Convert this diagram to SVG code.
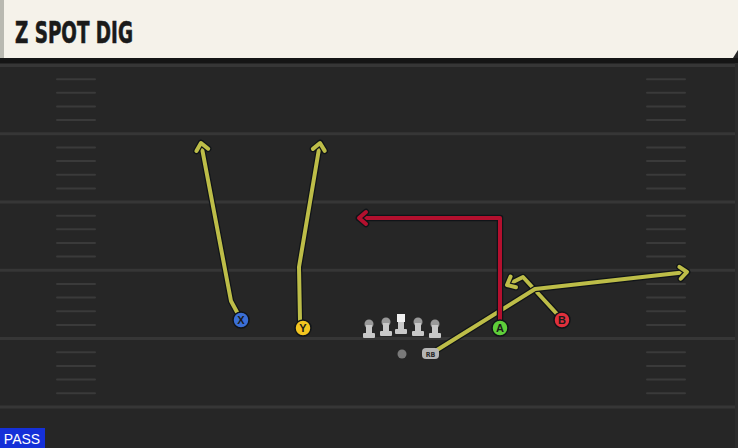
<svg xmlns="http://www.w3.org/2000/svg" width="738" height="448" viewBox="0 0 738 448">
<style>
.yl{stroke:#363636;stroke-width:3}
.hm{stroke:#3a3a3a;stroke-width:2;stroke-linecap:round}
.ol{fill:none;stroke:#101418;stroke-width:6.5;stroke-linejoin:round;stroke-linecap:round}
.ry{fill:none;stroke:#bdbd48;stroke-width:4;stroke-linejoin:round;stroke-linecap:round}
.rr{fill:none;stroke:#b3102e;stroke-width:4;stroke-linejoin:round;stroke-linecap:round}
.lbl{font-family:"Liberation Sans",Arial,sans-serif;font-weight:bold;font-size:11px;fill:#1a1a1a;text-anchor:middle}
.pc{stroke:#101418;stroke-width:1.5}
</style>
<defs>
<marker id="ay" markerUnits="userSpaceOnUse" viewBox="-14 -10 18 20" refX="0" refY="0" markerWidth="18" markerHeight="20" orient="auto" overflow="visible">
<path d="M-7,-6 L0,0 L-7,6" fill="none" stroke="#101418" stroke-width="6.5" stroke-linecap="round" stroke-linejoin="round"/>
<path d="M-7,-6 L0,0 L-7,6" fill="none" stroke="#bdbd48" stroke-width="4" stroke-linecap="round" stroke-linejoin="round"/>
</marker>
<marker id="ar" markerUnits="userSpaceOnUse" viewBox="-14 -10 18 20" refX="0" refY="0" markerWidth="18" markerHeight="20" orient="auto" overflow="visible">
<path d="M-7,-6 L0,0 L-7,6" fill="none" stroke="#101418" stroke-width="6.5" stroke-linecap="round" stroke-linejoin="round"/>
<path d="M-7,-6 L0,0 L-7,6" fill="none" stroke="#b3102e" stroke-width="4" stroke-linecap="round" stroke-linejoin="round"/>
</marker>
</defs>
<rect width="738" height="448" fill="#262626"/>
<g id="field">
<line class="yl" x1="0" y1="65.5" x2="738" y2="65.5"/>
<line class="yl" x1="0" y1="133.8" x2="738" y2="133.8"/>
<line class="yl" x1="0" y1="202" x2="738" y2="202"/>
<line class="yl" x1="0" y1="270.3" x2="738" y2="270.3"/>
<line class="yl" x1="0" y1="338.6" x2="738" y2="338.6"/>
<line class="yl" x1="0" y1="407" x2="738" y2="407"/>
<g id="hashes">
<path class="hm" d="M57,79.2H95M57,92.8H95M57,106.5H95M57,120.1H95M57,147.4H95M57,161H95M57,174.7H95M57,188.4H95M57,215.7H95M57,229.3H95M57,243H95M57,256.6H95M57,284H95M57,297.6H95M57,311.2H95M57,325H95M57,352.3H95M57,366H95M57,379.6H95M57,393.3H95"/>
<path class="hm" d="M647,79.2H685M647,92.8H685M647,106.5H685M647,120.1H685M647,147.4H685M647,161H685M647,174.7H685M647,188.4H685M647,215.7H685M647,229.3H685M647,243H685M647,256.6H685M647,284H685M647,297.6H685M647,311.2H685M647,325H685M647,352.3H685M647,366H685M647,379.6H685M647,393.3H685"/>
</g>
<rect x="735" y="60" width="3" height="388" fill="#2c2c2c"/>
</g>
<g id="header">
<rect x="0" y="58" width="738" height="5" fill="#151515"/>
<path d="M0,0H738V50L733,58H0Z" fill="#f5f2ea"/>
<rect x="0" y="0" width="4" height="58" fill="#b9b9b1"/>
<text x="15" y="43" font-family="'DejaVu Sans Condensed','DejaVu Sans',sans-serif" font-weight="bold" font-size="30" fill="#1a1a1a" stroke="#1a1a1a" stroke-width="0.6" textLength="118" lengthAdjust="spacingAndGlyphs">Z SPOT DIG</text>
</g>
<g id="connectors">
<path class="ol" d="M238,314 L231,301 L201,143"/>
<path class="ry" d="M238,314 L231,301 L201,143" marker-end="url(#ay)"/>
<path class="ol" d="M300,320 L299,267 L320,143"/>
<path class="ry" d="M300,320 L299,267 L320,143" marker-end="url(#ay)"/>
<path class="ol" d="M557,314 L523,277 L507,285"/>
<path class="ry" d="M557,314 L523,277 L507,285" marker-end="url(#ay)"/>
<path class="ol" d="M437,350 L535,289 L687,272"/>
<path class="ry" d="M437,350 L535,289 L687,272" marker-end="url(#ay)"/>
<path class="ol" d="M500,320 L500,218 L359,218"/>
<path class="rr" d="M500,320 L500,218 L359,218" marker-end="url(#ar)"/>
</g>
<g id="X"><circle class="pc" cx="241" cy="320" r="8" fill="#3b6fd6"/><text class="lbl" x="241" y="324">X</text></g>
<g id="Y"><circle class="pc" cx="303" cy="328" r="8" fill="#f2c520"/><text class="lbl" x="303" y="332">Y</text></g>
<g id="A"><circle class="pc" cx="500" cy="328" r="8" fill="#5fcf3a"/><text class="lbl" x="500" y="332">A</text></g>
<g id="B"><circle class="pc" cx="562" cy="320" r="8" fill="#e0303c"/><text class="lbl" x="562" y="324">B</text></g>
<g id="OL" fill="#c8c8c8">
<g id="LT"><circle cx="369" cy="324" r="4.5" fill="#999"/><rect x="366" y="325" width="6" height="9"/><rect x="363" y="333" width="12" height="5" rx="1"/></g>
<g id="LG"><circle cx="386" cy="322" r="4.5" fill="#999"/><rect x="383" y="323" width="6" height="9"/><rect x="380" y="331" width="12" height="5" rx="1"/></g>
<g id="C"><rect x="397" y="314" width="8" height="8" fill="#f0f0f0"/><rect x="398" y="322" width="6" height="8"/><rect x="395" y="329" width="12" height="5" rx="1"/></g>
<g id="RG"><circle cx="418" cy="322" r="4.5" fill="#999"/><rect x="415" y="323" width="6" height="9"/><rect x="412" y="331" width="12" height="5" rx="1"/></g>
<g id="RT"><circle cx="435" cy="324" r="4.5" fill="#999"/><rect x="432" y="325" width="6" height="9"/><rect x="429" y="333" width="12" height="5" rx="1"/></g>
</g>
<g id="QB"><circle cx="402" cy="354" r="4.5" fill="#7a7a7a"/></g>
<g id="RB"><rect x="422" y="348" width="17" height="11" rx="4" fill="#b5b5b5"/><text x="430.5" y="356.5" font-family="'DejaVu Sans Condensed','DejaVu Sans',sans-serif" font-weight="bold" font-size="7" fill="#2a2a2a" text-anchor="middle">RB</text></g>
<g id="pass"><rect x="0" y="428" width="45" height="20" fill="#1530d8"/><text x="22" y="444" font-family="'Liberation Sans',Arial,sans-serif" font-size="14" fill="#ffffff" text-anchor="middle">PASS</text></g>
</svg>
